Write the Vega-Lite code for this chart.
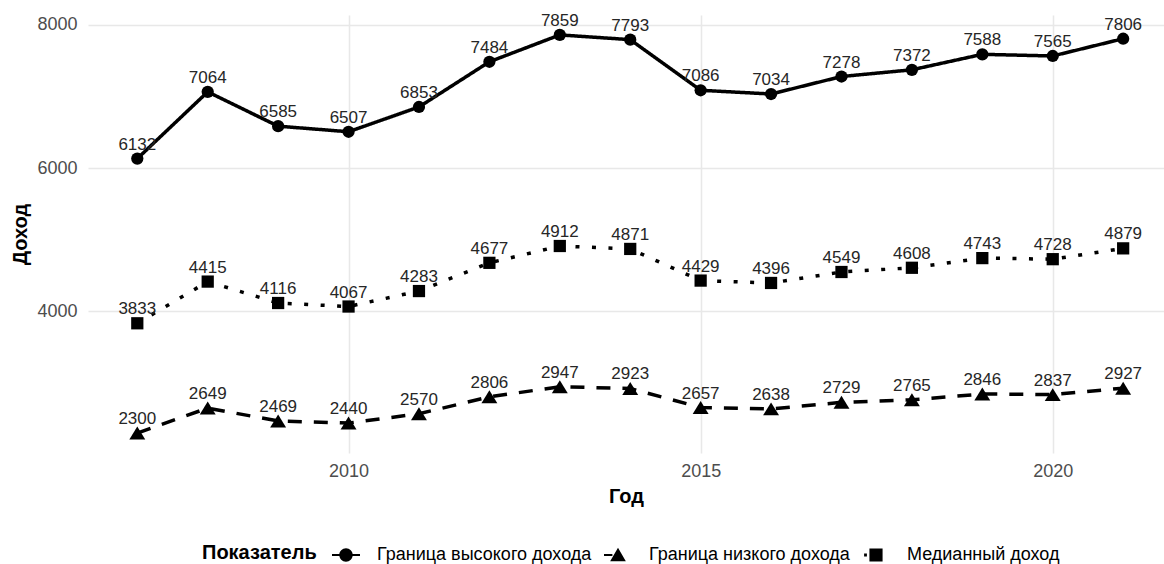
{
  "$schema": "https://vega.github.io/schema/vega-lite/v6.json",
  "width": 1076,
  "height": 438,
  "autosize": {"type": "none"},
  "padding": {"left": 88, "top": 15, "right": 0, "bottom": 111},
  "background": "white",
  "config": {
    "font": "Liberation Sans",
    "view": {"stroke": null},
    "axis": {
      "domain": false,
      "ticks": false,
      "grid": true,
      "gridColor": "#e8e8e8",
      "gridWidth": 1.5,
      "labelColor": "#4d4d4d",
      "labelFontSize": 18,
      "titleFontSize": 20,
      "titleFontWeight": "bold",
      "titleColor": "#000000"
    }
  },
  "data": {
    "values": [
      {"year": 2007, "series": "Граница высокого дохода", "value": 6132},
      {"year": 2008, "series": "Граница высокого дохода", "value": 7064},
      {"year": 2009, "series": "Граница высокого дохода", "value": 6585},
      {"year": 2010, "series": "Граница высокого дохода", "value": 6507},
      {"year": 2011, "series": "Граница высокого дохода", "value": 6853},
      {"year": 2012, "series": "Граница высокого дохода", "value": 7484},
      {"year": 2013, "series": "Граница высокого дохода", "value": 7859},
      {"year": 2014, "series": "Граница высокого дохода", "value": 7793},
      {"year": 2015, "series": "Граница высокого дохода", "value": 7086},
      {"year": 2016, "series": "Граница высокого дохода", "value": 7034},
      {"year": 2017, "series": "Граница высокого дохода", "value": 7278},
      {"year": 2018, "series": "Граница высокого дохода", "value": 7372},
      {"year": 2019, "series": "Граница высокого дохода", "value": 7588},
      {"year": 2020, "series": "Граница высокого дохода", "value": 7565},
      {"year": 2021, "series": "Граница высокого дохода", "value": 7806},
      {"year": 2007, "series": "Граница низкого дохода", "value": 2300},
      {"year": 2008, "series": "Граница низкого дохода", "value": 2649},
      {"year": 2009, "series": "Граница низкого дохода", "value": 2469},
      {"year": 2010, "series": "Граница низкого дохода", "value": 2440},
      {"year": 2011, "series": "Граница низкого дохода", "value": 2570},
      {"year": 2012, "series": "Граница низкого дохода", "value": 2806},
      {"year": 2013, "series": "Граница низкого дохода", "value": 2947},
      {"year": 2014, "series": "Граница низкого дохода", "value": 2923},
      {"year": 2015, "series": "Граница низкого дохода", "value": 2657},
      {"year": 2016, "series": "Граница низкого дохода", "value": 2638},
      {"year": 2017, "series": "Граница низкого дохода", "value": 2729},
      {"year": 2018, "series": "Граница низкого дохода", "value": 2765},
      {"year": 2019, "series": "Граница низкого дохода", "value": 2846},
      {"year": 2020, "series": "Граница низкого дохода", "value": 2837},
      {"year": 2021, "series": "Граница низкого дохода", "value": 2927},
      {"year": 2007, "series": "Медианный доход", "value": 3833},
      {"year": 2008, "series": "Медианный доход", "value": 4415},
      {"year": 2009, "series": "Медианный доход", "value": 4116},
      {"year": 2010, "series": "Медианный доход", "value": 4067},
      {"year": 2011, "series": "Медианный доход", "value": 4283},
      {"year": 2012, "series": "Медианный доход", "value": 4677},
      {"year": 2013, "series": "Медианный доход", "value": 4912},
      {"year": 2014, "series": "Медианный доход", "value": 4871},
      {"year": 2015, "series": "Медианный доход", "value": 4429},
      {"year": 2016, "series": "Медианный доход", "value": 4396},
      {"year": 2017, "series": "Медианный доход", "value": 4549},
      {"year": 2018, "series": "Медианный доход", "value": 4608},
      {"year": 2019, "series": "Медианный доход", "value": 4743},
      {"year": 2020, "series": "Медианный доход", "value": 4728},
      {"year": 2021, "series": "Медианный доход", "value": 4879}
    ]
  },
  "encoding": {
    "x": {
      "field": "year",
      "type": "quantitative",
      "scale": {"domain": [2006.3, 2021.58], "nice": false, "zero": false},
      "axis": {"values": [2010, 2015, 2020], "format": "d", "title": "Год", "labelPadding": 9, "titlePadding": 6}
    },
    "y": {
      "field": "value",
      "type": "quantitative",
      "scale": {"domain": [2022, 8137], "nice": false, "zero": false},
      "axis": {"values": [4000, 6000, 8000], "format": "d", "title": "Доход", "labelPadding": 11, "titlePadding": 6}
    }
  },
  "resolve": {"scale": {"shape": "independent"}, "legend": {"shape": "independent"}},
  "layer": [
    {
      "mark": {"type": "line", "strokeWidth": 3.5, "color": "#000000"},
      "transform": [{"filter": "datum.series != 'Медианный доход'"}],
      "encoding": {
        "detail": {"field": "series", "type": "nominal"},
        "strokeDash": {
          "condition": {"test": "datum.series == 'Граница низкого дохода'", "value": [14, 12]},
          "value": [1, 0]
        }
      }
    },
    {
      "mark": {"type": "line", "strokeWidth": 3.5, "color": "#000000", "strokeDash": [4, 12.5]},
      "transform": [{"filter": "datum.series == 'Медианный доход'"}],
      "encoding": {}
    },
    {
      "mark": {"type": "point", "filled": true, "color": "#000000", "opacity": 1, "size": 150},
      "encoding": {
        "shape": {
          "field": "series",
          "type": "nominal",
          "scale": {
            "domain": ["Граница высокого дохода", "Граница низкого дохода", "Медианный доход"],
            "range": ["circle", "M0,-1.06L1.3,1.06L-1.3,1.06Z", "square"]
          },
          "legend": null
        }
      }
    },
    {
      "mark": {"type": "point", "filled": true, "color": "#000000", "opacity": 1, "size": 784},
      "transform": [{"filter": "datum.year < 0"}],
      "encoding": {
        "shape": {
          "field": "series",
          "type": "nominal",
          "scale": {
            "domain": ["Граница высокого дохода", "Граница низкого дохода", "Медианный доход"],
            "range": [
              "M-1,-0.07H1V0.07H-1Z M-0.48,0A0.48,0.48,0,1,1,0.48,0A0.48,0.48,0,1,1,-0.48,0Z",
              "M-1,-0.07H-0.4V0.07H-1Z M0,-0.52L0.56,0.45L-0.56,0.45Z",
              "M-0.85,-0.1H-0.65V0.1H-0.85Z M-0.47,-0.47H0.47V0.47H-0.47Z"
            ]
          },
          "legend": {
            "title": "Показатель",
            "orient": "none",
            "legendX": 114,
            "legendY": 526,
            "direction": "horizontal",
            "titleOrient": "left",
            "titleFontSize": 20,
            "titleFontWeight": "bold",
            "titleColor": "#000000",
            "titlePadding": 15,
            "labelFontSize": 18,
            "labelColor": "#000000",
            "labelOffset": 17,
            "labelLimit": 400,
            "columnPadding": 12,
            "symbolSize": 784,
            "symbolOpacity": 1,
            "symbolFillColor": "#000000",
            "symbolStrokeWidth": 0
          }
        }
      }
    },
    {
      "mark": {"type": "text", "dy": -14, "fontSize": 17, "color": "#262626", "baseline": "middle"},
      "encoding": {
        "text": {"field": "value", "type": "quantitative", "format": "d"}
      }
    }
  ]
}
